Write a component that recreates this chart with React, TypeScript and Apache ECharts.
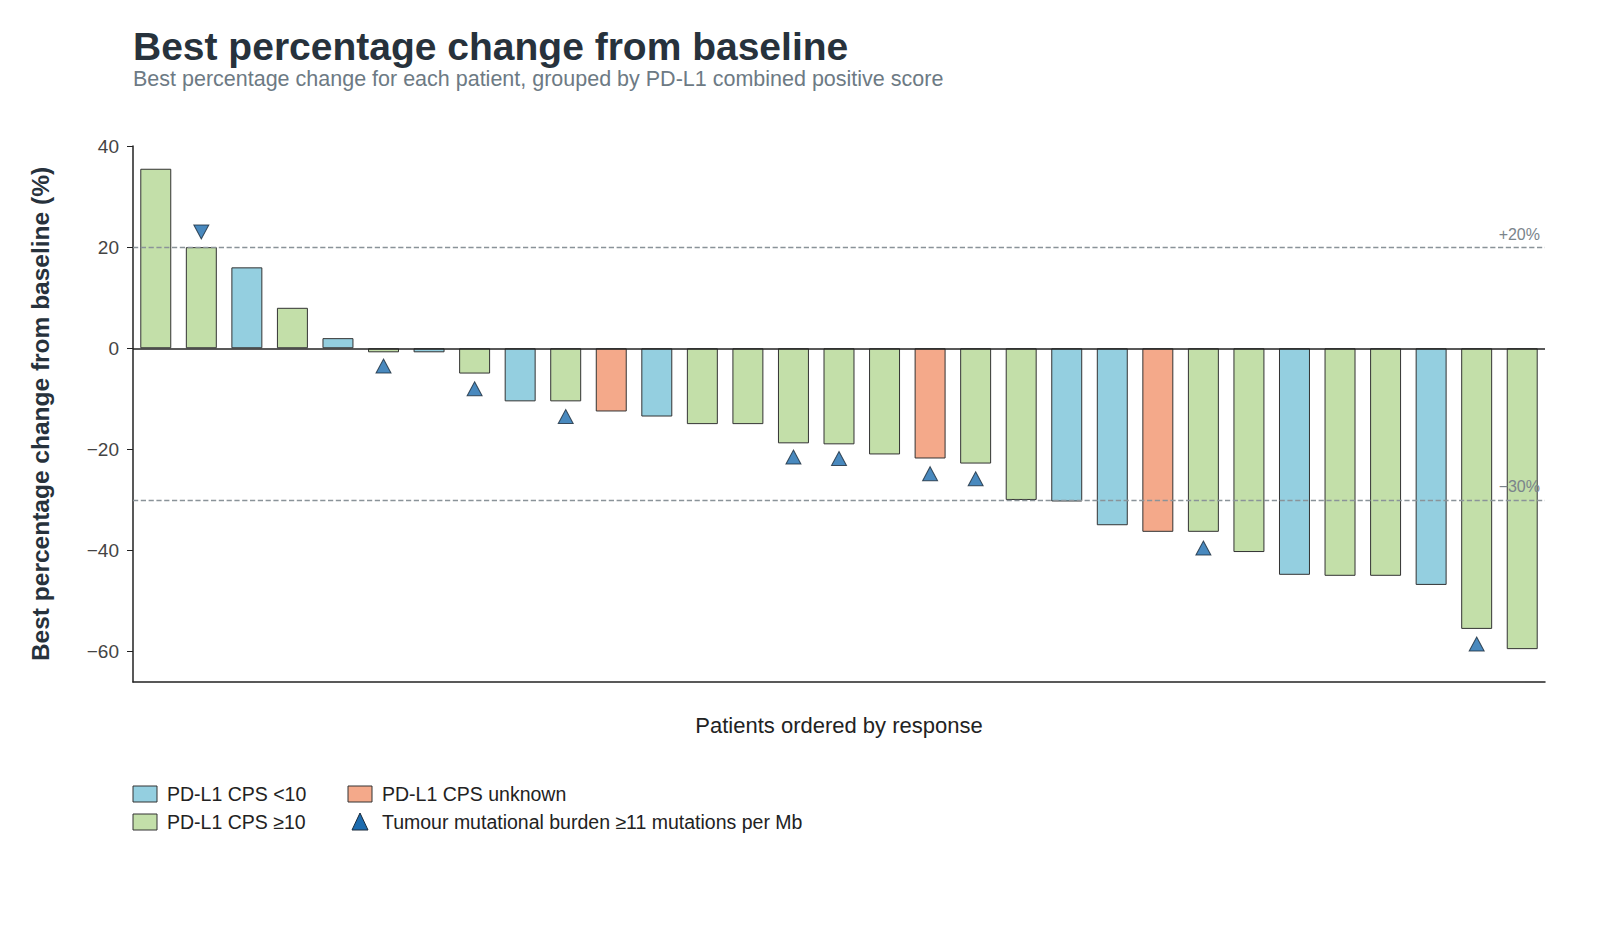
import React, { useEffect, useRef } from "react";
import * as echarts from "echarts";

const patients = Array.from({ length: 31 }, (_, i) => `P${i + 1}`);
const changes = [35.5, 20, 16, 8, 2, -0.8, -0.8, -5, -10.5, -10.5, -12.5, -13.5, -15, -15, -18.8, -19, -21, -21.8, -22.8, -30, -30.3, -35, -36.3, -36.3, -40.3, -44.8, -45, -45, -46.8, -55.5, -59.5];
const groups = ["hi", "hi", "lo", "hi", "lo", "hi", "lo", "hi", "lo", "hi", "un", "lo", "hi", "hi", "hi", "hi", "hi", "un", "hi", "hi", "lo", "lo", "un", "hi", "hi", "lo", "hi", "hi", "lo", "hi", "hi"];
const tmbMarkers: (number | null)[] = [null, 23, null, null, null, -3.5, null, -8, null, -13.5, null, null, null, null, -21.5, -21.8, null, -24.8, -25.8, null, null, null, null, -39.5, null, null, null, null, null, -58.5, null];
const yTicks = [-60, -40, -20, 0, 20, 40];
const refLines = [20, -30];

const colors: Record<string, string> = { lo: "#94cfe0", hi: "#c3dfa9", un: "#f4a98a" };
const tri = "#1c6bae";

export default function App() {
  const ref = useRef<HTMLDivElement>(null);
  useEffect(() => {
    const chart = echarts.init(ref.current!, null, { renderer: "svg" });
    const font = "Liberation Sans, Arial, sans-serif";
    const legend = [
      { x: 125, y: 786, kind: "rect", color: colors.lo, label: "PD-L1 CPS <10" },
      { x: 125, y: 814, kind: "rect", color: colors.hi, label: "PD-L1 CPS ≥10" },
      { x: 340, y: 786, kind: "rect", color: colors.un, label: "PD-L1 CPS unknown" },
      { x: 340, y: 814, kind: "tri", color: tri, label: "Tumour mutational burden ≥11 mutations per Mb" },
    ];
    const graphics: any[] = [];
    legend.forEach((l) => {
      if (l.kind === "rect")
        graphics.push({ type: "rect", shape: { x: l.x, y: l.y - 8, width: 24, height: 16 }, style: { fill: l.color, stroke: "#333", lineWidth: 1 } });
      else
        graphics.push({ type: "polygon", shape: { points: [[l.x + 12, l.y - 9], [l.x + 4, l.y + 8], [l.x + 20, l.y + 8]] }, style: { fill: l.color, stroke: "#1a2a3a", lineWidth: 1 } });
      graphics.push({ type: "text", x: l.x + 34, y: l.y, style: { text: l.label, fill: "#222", font: `19.5px ${font}`, verticalAlign: "middle" } });
    });
    chart.setOption({
      animation: false,
      title: {
        text: "Best percentage change from baseline",
        subtext: "Best percentage change for each patient, grouped by PD-L1 combined positive score",
        left: 120, top: 14, itemGap: 2,
        textStyle: { fontFamily: font, fontSize: 39, fontWeight: "bold", color: "#27323c" },
        subtextStyle: { fontFamily: font, fontSize: 21.5, color: "#6d7a84" },
      },
      grid: { left: 125, right: 47, top: 138, bottom: 239 },
      xAxis: {
        type: "category", data: patients,
        name: "Patients ordered by response", nameLocation: "middle", nameGap: 32,
        nameTextStyle: { fontFamily: font, fontSize: 22, color: "#222" },
        axisLine: { onZero: false, lineStyle: { color: "#222", width: 1.5 } },
        axisTick: { show: false }, axisLabel: { show: false },
      },
      yAxis: {
        type: "value", min: -66, max: 40,
        name: "Best percentage change from baseline (%)", nameLocation: "middle", nameGap: 80,
        nameTextStyle: { fontFamily: font, fontSize: 24.5, fontWeight: "bold", color: "#27323c" },
        axisLine: { show: true, lineStyle: { color: "#222", width: 1.5 } },
        axisTick: { show: true, customValues: yTicks, length: 6, lineStyle: { color: "#222" } },
        axisLabel: { customValues: yTicks, fontFamily: font, fontSize: 19, color: "#444", margin: 14, formatter: (v: number) => (v < 0 ? "−" + Math.abs(v) : String(v)) },
        splitLine: { show: false },
      },
      series: [
        {
          type: "bar", barWidth: "68%",
          data: changes.map((v, i) => ({ value: v, itemStyle: { color: colors[groups[i]], borderColor: "#333", borderWidth: 1 } })),
          markLine: {
            symbol: "none", silent: true,
            data: [
              { yAxis: 0, lineStyle: { type: "solid", color: "#222", width: 1.5 }, label: { show: false } },
              ...refLines.map((r) => ({
                yAxis: r,
                lineStyle: { type: "dashed", color: "#8a9399", width: 1.3 },
                label: { show: true, position: "insideEndTop", formatter: (r > 0 ? "+" : "−") + Math.abs(r) + "%", fontFamily: font, fontSize: 16, color: "#7a848b" },
              })),
            ],
          },
        },
        {
          type: "scatter", symbol: "triangle", symbolSize: [15, 14],
          itemStyle: { color: tri, borderColor: "#1a2a3a", borderWidth: 1 },
          data: tmbMarkers.map((m, i) => (m === null ? null : { value: [i, m], symbolRotate: changes[i] > 0 ? 180 : 0 })).filter((d) => d !== null),
        },
      ],
      graphic: graphics,
    });
    return () => chart.dispose();
  }, []);
  return <div ref={ref} style={{ width: 1584, height: 913 }} />;
}
